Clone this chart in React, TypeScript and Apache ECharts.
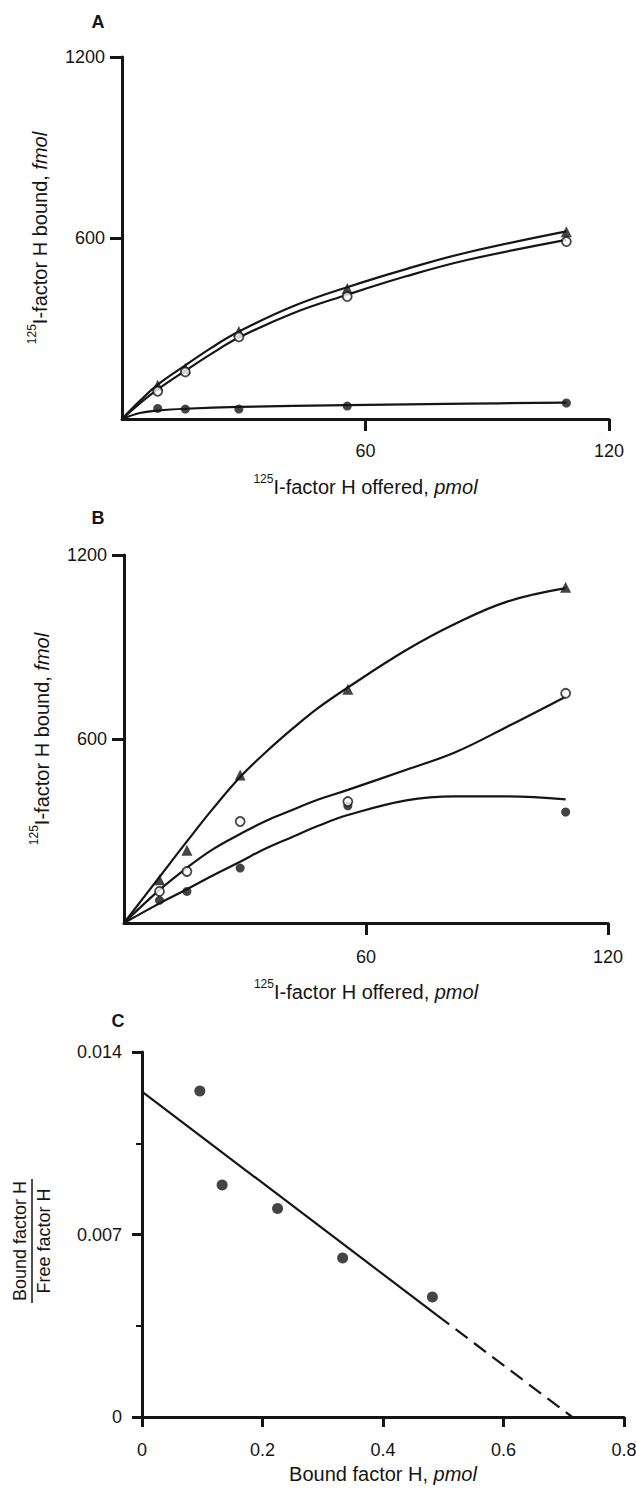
import React, { useEffect, useRef } from "react";
import * as echarts from "echarts";

// ---------- data ----------
// Panels A and B: 125I-factor H offered (pmol)
const offered = [8.8, 15.6, 28.8, 55.5, 109.5];

// Panel A measured points (fmol bound)
const aTriangle = [112, 167, 290, 433, 621];
const aOpen = [92, 156, 272, 406, 588];
const aFilled = [35, 33, 33, 43, 53];
// Panel A fitted curves
const aCurveX = [0, 4.4, 8.8, 15.6, 22, 28.8, 42, 55.5, 70, 85, 109.5];
const aTriangleFit = [0, 60, 114, 178, 236, 290, 373, 437, 497, 552, 622];
const aOpenFit = [0, 52, 98, 160, 216, 270, 350, 412, 473, 527, 594];
const aFilledX = [0, 4.4, 8.8, 15.6, 28.8, 55.5, 85, 109.5];
const aFilledFit = [0, 20, 28, 34, 40, 46, 51, 54];

// Panel B measured points
const bTriangle = [141, 237, 483, 762, 1095];
const bOpen = [103, 168, 331, 396, 749];
const bFilled = [74, 103, 179, 382, 362];
// Panel B fitted curves
const bCurveX = [0, 8.8, 15.6, 22, 28.8, 35, 42, 48, 55.5, 70, 82, 95, 109.5];
const bTriangleFit = [0, 150, 266, 372, 476, 555, 636, 700, 768, 890, 975, 1048, 1092];
const bOpenFit = [0, 108, 180, 240, 290, 332, 370, 402, 434, 500, 556, 640, 738];
const bFilledFit = [0, 64, 110, 155, 200, 242, 282, 316, 352, 400, 413, 413, 403];

// Panel C: Scatchard plot
const cBound = [0.096, 0.133, 0.225, 0.333, 0.482];
const cRatio = [0.0125, 0.0089, 0.008, 0.0061, 0.0046];
const cSolidX = [0, 0.49];
const cSolidY = [0.01248, 0.0039];
const cDashX = [0.49, 0.714];
const cDashY = [0.0039, 0];

// tick labels
const xTicksAB = [60, 120];
const yTicksAB = [600, 1200];

const FONT = '"Liberation Sans", Arial, Helvetica, sans-serif';
const INK = "#151515";

const zip = (xs: number[], ys: number[]) => xs.map((x, i) => [x, ys[i]]);
const plain = (v: number) => String(v);

const richName = {
  n: { fontSize: 20, fontFamily: FONT, color: INK, verticalAlign: "bottom", lineHeight: 24 },
  it: { fontSize: 20, fontFamily: FONT, color: INK, fontStyle: "italic", verticalAlign: "bottom", lineHeight: 24 },
  sup: { fontSize: 12, fontFamily: FONT, color: INK, verticalAlign: "top", lineHeight: 24 },
};

const tickLabel = (margin: number, extra: any = {}) => ({
  margin,
  fontSize: 18,
  color: INK,
  fontFamily: FONT,
  formatter: plain,
  ...extra,
});

function xAxisAB(gridIndex: number, nameGap: number, labelMargin: number) {
  return {
    type: "value",
    gridIndex,
    min: 0,
    max: 120,
    axisLine: { show: true, onZero: false, lineStyle: { color: INK, width: 3 } },
    axisTick: { show: true, length: 12, customValues: xTicksAB, lineStyle: { color: INK, width: 3 } },
    axisLabel: tickLabel(labelMargin, { customValues: xTicksAB }),
    splitLine: { show: false },
    name: "{sup|125}{n|I-factor H offered, }{it|pmol}",
    nameLocation: "middle",
    nameGap,
    nameTextStyle: { rich: richName },
  };
}

function yAxisAB(gridIndex: number) {
  return {
    type: "value",
    gridIndex,
    min: 0,
    max: 1200,
    axisLine: { show: true, onZero: false, lineStyle: { color: INK, width: 3 } },
    axisTick: { show: true, length: 12, customValues: yTicksAB, lineStyle: { color: INK, width: 3 } },
    axisLabel: tickLabel(17, { customValues: yTicksAB }),
    splitLine: { show: false },
    name: "{sup|125}{n|I-factor H bound, }{it|fmol}",
    nameLocation: "middle",
    nameGap: 72,
    nameRotate: 90,
    nameTextStyle: { rich: richName },
  };
}

function curve(data: number[][], xi: number) {
  return {
    type: "line",
    xAxisIndex: xi,
    yAxisIndex: xi,
    data,
    smooth: 0.4,
    showSymbol: false,
    symbol: "none",
    lineStyle: { color: INK, width: 2.2 },
    z: 2,
    silent: true,
  };
}

function pts(data: number[][], xi: number, kind: "tri" | "open" | "filled", size = 10) {
  const base: any = {
    type: "scatter",
    xAxisIndex: xi,
    yAxisIndex: xi,
    data,
    z: 4,
    silent: true,
  };
  if (kind === "tri") {
    base.symbol = "triangle";
    base.symbolSize = 11;
    base.itemStyle = { color: INK };
  } else if (kind === "open") {
    base.symbol = "circle";
    base.symbolSize = 9;
    base.itemStyle = { color: "#fff", borderColor: INK, borderWidth: 1.8 };
  } else {
    base.symbol = "circle";
    base.symbolSize = size;
    base.itemStyle = { color: INK };
  }
  return base;
}

export default function App() {
  const ref = useRef<HTMLDivElement>(null);

  useEffect(() => {
    if (!ref.current) return;
    const chart = echarts.init(ref.current, undefined, { renderer: "svg" });

    const letter = (t: string, x: number, y: number) => ({
      type: "text",
      x,
      y,
      style: { text: t, fontSize: 18, fontWeight: "bold", fontFamily: FONT, fill: INK, align: "center", verticalAlign: "middle" },
    });

    const option: any = {
      animation: false,
      backgroundColor: "#ffffff",
      grid: [
        { left: 122, top: 57, width: 487, height: 362, outerBoundsMode: "none" },
        { left: 124, top: 555, width: 484, height: 368, outerBoundsMode: "none" },
        { left: 142, top: 1052, width: 482, height: 365, outerBoundsMode: "none" },
      ],
      xAxis: [
        xAxisAB(0, 54, 23),
        xAxisAB(1, 55, 25),
        {
          type: "value",
          gridIndex: 2,
          min: 0,
          max: 0.8,
          interval: 0.2,
          axisLine: { show: true, onZero: false, lineStyle: { color: INK, width: 3 } },
          axisTick: { show: true, length: 10, lineStyle: { color: INK, width: 3 } },
          axisLabel: tickLabel(24),
          splitLine: { show: false },
          name: "{n|Bound factor H, }{it|pmol}",
          nameLocation: "middle",
          nameGap: 43,
          nameTextStyle: { rich: richName },
        },
      ],
      yAxis: [
        yAxisAB(0),
        yAxisAB(1),
        {
          type: "value",
          gridIndex: 2,
          min: 0,
          max: 0.014,
          interval: 0.007,
          axisLine: { show: true, onZero: false, lineStyle: { color: INK, width: 3 } },
          axisTick: { show: true, length: 10, lineStyle: { color: INK, width: 3 } },
          minorTick: { show: true, splitNumber: 2, length: 6, lineStyle: { color: INK, width: 2 } },
          axisLabel: tickLabel(20),
          splitLine: { show: false },
          minorSplitLine: { show: false },
        },
      ],
      graphic: [
        letter("A", 98, 22),
        letter("B", 98, 518),
        letter("C", 118, 1021),
        {
          type: "group",
          x: 32,
          y: 1241,
          rotation: Math.PI / 2,
          children: [
            { type: "text", x: 0, y: -3, style: { text: "Bound factor H", fontSize: 18, fontFamily: FONT, fill: INK, align: "center", verticalAlign: "bottom" } },
            { type: "line", shape: { x1: -62, y1: 0, x2: 62, y2: 0 }, style: { stroke: INK, lineWidth: 1.5 } },
            { type: "text", x: 0, y: 3, style: { text: "Free factor H", fontSize: 18, fontFamily: FONT, fill: INK, align: "center", verticalAlign: "top" } },
          ],
        },
      ],
      series: [
        // Panel A
        curve(zip(aCurveX, aTriangleFit), 0),
        curve(zip(aCurveX, aOpenFit), 0),
        curve(zip(aFilledX, aFilledFit), 0),
        pts(zip(offered, aTriangle), 0, "tri"),
        pts(zip(offered, aOpen), 0, "open"),
        pts(zip(offered, aFilled), 0, "filled", 9),
        // Panel B
        curve(zip(bCurveX, bTriangleFit), 1),
        curve(zip(bCurveX, bOpenFit), 1),
        curve(zip(bCurveX, bFilledFit), 1),
        pts(zip(offered, bTriangle), 1, "tri"),
        pts(zip(offered, bFilled), 1, "filled", 9),
        pts(zip(offered, bOpen), 1, "open"),
        // Panel C
        {
          type: "line",
          xAxisIndex: 2,
          yAxisIndex: 2,
          data: zip(cSolidX, cSolidY),
          showSymbol: false,
          symbol: "none",
          lineStyle: { color: INK, width: 2.2 },
          silent: true,
        },
        {
          type: "line",
          xAxisIndex: 2,
          yAxisIndex: 2,
          data: zip(cDashX, cDashY),
          showSymbol: false,
          symbol: "none",
          lineStyle: { color: INK, width: 2.2, type: [15, 8] },
          silent: true,
        },
        pts(zip(cBound, cRatio), 2, "filled", 11),
      ],
    };

    chart.setOption(option);
    return () => chart.dispose();
  }, []);

  return (
    <div
      ref={ref}
      style={{ position: "absolute", left: 0, top: 0, width: 636, height: 1490, background: "#fff" }}
    />
  );
}
